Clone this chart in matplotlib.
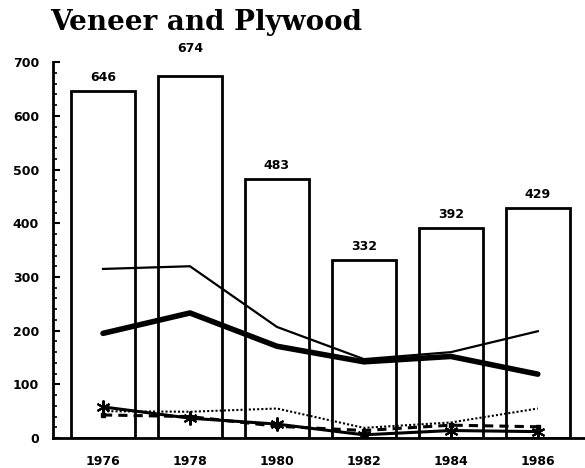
import matplotlib
matplotlib.use("Agg")
import matplotlib.pyplot as plt
import numpy as np

# years and bar totals
years = ["1976", "1978", "1980", "1982", "1984", "1986"]
totals = [646, 674, 483, 332, 392, 429]

# line series
thin_solid = [315, 320, 207, 147, 160, 199]
thick_solid = [195, 233, 171, 142, 152, 119]
dotted = [50, 49, 55, 19, 29, 55]
starred = [58, 37, 26, 6, 14, 12]
dashed = [43, 40, 22, 14, 24, 21]

x = np.arange(len(years))

fig = plt.figure(figsize=(5.85, 4.68), dpi=100)
ax = fig.add_axes([0.0906, 0.064, 0.909, 0.803])

ax.bar(x, totals, width=0.74, color="white", edgecolor="black", linewidth=2, zorder=1)

for i, v in enumerate(totals):
    # tallest bar has its label pushed up above the frame, as in the original
    off = 15 if v == max(totals) else 5
    ax.annotate(str(v), (x[i], v), xytext=(0, off), textcoords="offset points",
                ha="center", va="bottom", fontsize=9, fontweight="bold",
                annotation_clip=False)

ax.plot(x, thin_solid, color="black", lw=1.6, zorder=3)
ax.plot(x, thick_solid, color="black", lw=4, solid_capstyle="round", zorder=3)
ax.plot(x, dotted, color="black", lw=1.5, ls=(0, (1, 1)), zorder=3)
ax.plot(x, starred, color="black", lw=2.2, marker=(6, 2, 0), ms=10, mew=1.5, zorder=3)
ax.plot(x, dashed, color="black", lw=2.2, ls=(0, (3, 2)), marker="s", ms=3,
        zorder=3)

ax.set_xlim(-0.575, 5.54)
ax.set_ylim(0, 700)
ax.set_xticks(x)
ax.set_xticklabels(years, fontsize=9, fontweight="bold")
ax.tick_params(axis="x", length=0, pad=12)
ax.set_yticks(range(0, 701, 100))
ax.set_yticks(range(0, 701, 20), minor=True)
ax.tick_params(axis="y", which="both", direction="in", labelsize=9, pad=10)
ax.tick_params(axis="y", which="major", length=5, width=1.5)
ax.tick_params(axis="y", which="minor", length=3, width=1.2)
for lbl in ax.get_yticklabels():
    lbl.set_fontweight("bold")

ax.spines["top"].set_visible(False)
ax.spines["right"].set_visible(False)
ax.spines["left"].set_linewidth(2)
ax.spines["bottom"].set_linewidth(2)

fig.text(0.085, 0.936, "Veneer and Plywood", fontsize=20, fontweight="bold",
         family="DejaVu Serif", ha="left", va="baseline")

fig.savefig("out.png", dpi=100)
